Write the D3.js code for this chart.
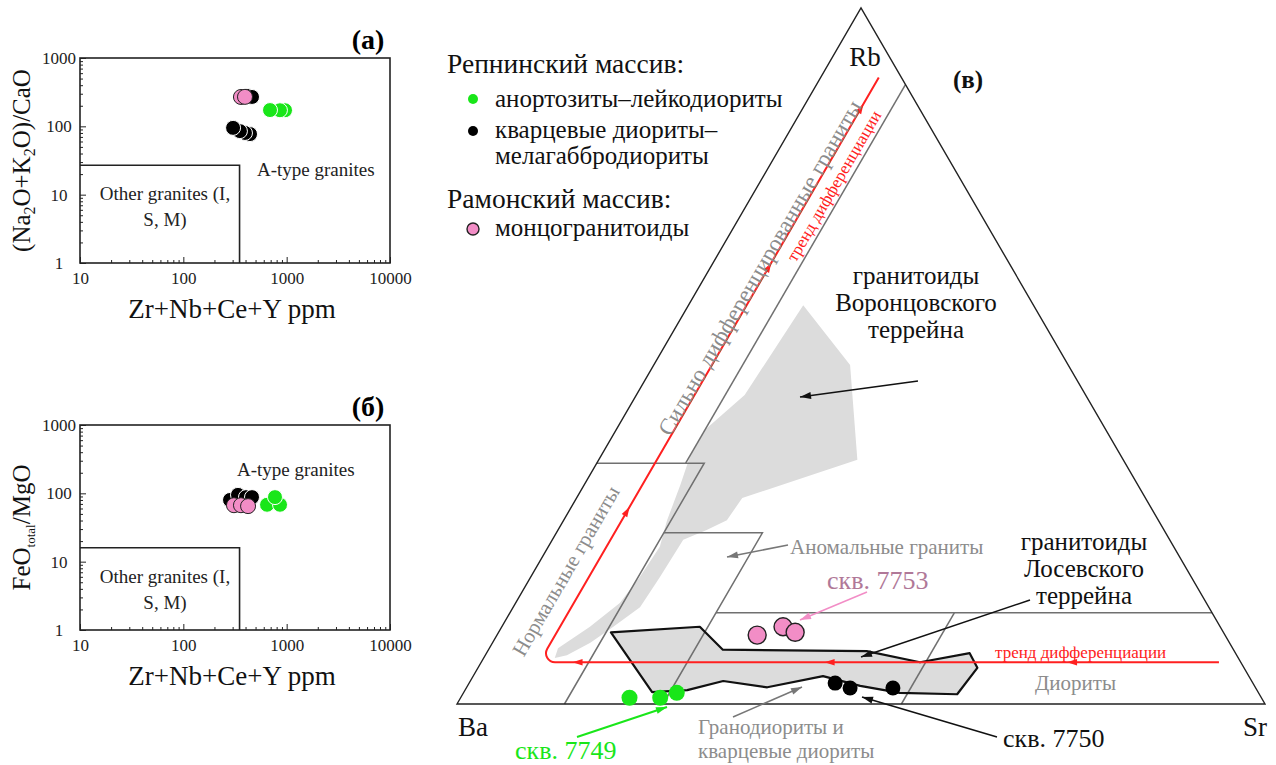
<!DOCTYPE html>
<html><head><meta charset="utf-8">
<script src="https://cdn.jsdelivr.net/npm/d3@7"></script>
<style>
body{margin:0;background:#fff;}
svg{display:block;}
svg text{font-family:'Liberation Serif';}
</style></head><body>
<svg id="chart" width="1276" height="765"></svg>
<script>
// ---------- Whalen discrimination plots (log-log) ----------
const xDomain = [10, 10000];
const yDomain = [1, 1000];
const xTickLabels = ["10", "100", "1000", "10000"];
const yTickLabels = ["1", "10", "100", "1000"];
// limits of the "Other granites" field: [Zr+Nb+Ce+Y, ratio]
const otherFieldA = [350, 27];
const otherFieldB = [350, 16];

// panel (а): [Zr+Nb+Ce+Y ppm, (Na2O+K2O)/CaO]
const aBlack = [[423, 278], [462, 269], [442, 77], [395, 80], [353, 85], [303, 95]];
const aPink = [[361, 269], [395, 270]];
const aGreen = [[964, 172], [861, 172], [690, 173]];
// panel (б): [Zr+Nb+Ce+Y ppm, FeOtotal/MgO]
const bBlack = [[283, 80], [338, 95], [404, 88], [462, 88]];
const bPink = [[309, 67], [361, 67], [423, 65]];
const bGreen = [[646, 68], [862, 68], [771, 88]];

// ---------- Rb–Ba–Sr ternary, points as [Ba, Rb, Sr] % ----------
const tGreen = [[78.2, 0.9, 20.9], [74.4, 0.9, 24.7], [72.0, 1.6, 26.4]];
const tBlack = [[51.7, 3.0, 45.3], [50.2, 2.3, 47.5], [44.9, 2.3, 52.8]];
const tPink = [[57.9, 9.9, 32.2], [54.1, 11.1, 34.8], [53.0, 10.3, 36.7]];

// field boundaries
const fieldLines = [
  [[0, 89, 11], [54.4, 34.6, 11]],                       // strongly differentiated
  [[65.4, 34.6, 0], [52.1, 34.6, 13.3], [86.7, 0, 13.3]], // normal granites
  [[62.1, 24.6, 13.3], [49.9, 24.6, 25.5], [74.5, 0, 25.5]], // anomalous granites
  [[61.4, 13.1, 25.5], [0, 13.1, 86.9]],                 // granodiorites top
  [[31.9, 13.1, 55], [45, 0, 55]]                        // diorites
];
// granitoids of the Vorontsovka terrane
const vorontsovField = [
  [28.5, 57.3, 14.2], [27.0, 48.7, 24.3], [32.9, 35.1, 32.0], [49.9, 29.6, 20.5],
  [53.4, 26.4, 20.2], [56.6, 25.0, 18.4], [60.2, 23.6, 16.2], [65.8, 18.2, 16.0],
  [70.4, 13.9, 15.7], [75.1, 11.1, 13.8], [79.1, 8.8, 12.1], [82.9, 7.0, 10.1],
  [84.6, 6.6, 8.8], [83.5, 8.0, 8.5], [78.0, 11.1, 10.9], [72.6, 14.5, 12.9],
  [68.3, 18.2, 13.5], [63.6, 22.6, 13.8], [60.8, 26.4, 12.8], [56.6, 31.5, 11.9],
  [53.2, 35.8, 11.0], [49.6, 39.4, 11.0], [42.2, 44.4, 13.4]
];
// granitoids of the Losevo terrane
const losevoField = [
  [75.8, 10.3, 13.9], [64.4, 11.1, 24.5], [63.2, 7.8, 29.0], [45.5, 7.6, 46.9],
  [39.7, 6.0, 54.3], [32.9, 7.3, 59.8], [33.0, 5.2, 61.8], [37.4, 1.4, 61.2],
  [44.4, 1.6, 54.0], [48.8, 2.6, 48.6], [52.7, 4.0, 43.3], [60.4, 2.4, 37.2],
  [65.4, 3.3, 31.3], [70.5, 2.0, 27.5], [75.0, 1.7, 23.3]
];
// differentiation trend
const trendPath = [[2.7, 6.0, 91.3], [86.8, 6.0, 7.2], [2.8, 90.0, 7.2]];
const trendArrowsLeft = [[21.5, 6.0, 72.5], [51.5, 6.0, 42.5], [82.7, 6.0, 11.3]];
const trendArrowsUp = [[64.5, 28.3, 7.2], [29.4, 63.4, 7.2], [6.6, 86.2, 7.2]];

const GREEN = "#19e619", PINK = "#f28dc6", RED = "#ff2020", GREYTXT = "#8c8c8c";
const FONT = "'Liberation Serif'";

const svg = d3.select("#chart").attr("font-family", FONT);

// ---------- log panels ----------
function logPanel(cfg) {
  const g = svg.append("g");
  const x = d3.scaleLog().domain(xDomain).range([80, 390]);
  const y = d3.scaleLog().domain(yDomain).range([cfg.bottom, cfg.top]);
  const isMajor = v => Math.abs(Math.log10(v) - Math.round(Math.log10(v))) < 1e-9;

  const xa = g.append("g").attr("transform", `translate(0,${cfg.bottom})`)
    .call(d3.axisBottom(x).tickValues(x.ticks()).tickSizeInner(-4).tickSizeOuter(0).tickPadding(9)
      .tickFormat(d => isMajor(d) ? xTickLabels[Math.round(Math.log10(d)) - 1] : ""));
  xa.attr("font-family", FONT);
  xa.select(".domain").remove();
  xa.selectAll(".tick line").attr("y2", d => isMajor(d) ? -6 : -3).attr("stroke", "#222");
  xa.selectAll(".tick text").attr("font-size", 17).attr("fill", "#222");

  const ya = g.append("g").attr("transform", "translate(80,0)")
    .call(d3.axisLeft(y).tickValues(y.ticks()).tickSizeInner(-4).tickSizeOuter(0)
      .tickFormat(d => isMajor(d) ? yTickLabels[Math.round(Math.log10(d))] : ""));
  ya.attr("font-family", FONT);
  ya.select(".domain").remove();
  ya.selectAll(".tick line").attr("x2", d => isMajor(d) ? 6 : 3).attr("stroke", "#222");
  ya.selectAll(".tick text").attr("font-size", 17)
    .attr("fill", "#222").attr("text-anchor", "middle").attr("x", -21);

  // frame
  g.append("rect").attr("x", 80).attr("y", cfg.top).attr("width", 310).attr("height", cfg.bottom - cfg.top)
    .attr("fill", "none").attr("stroke", "#222").attr("stroke-width", 1.6);
  // other granites field
  g.append("path").attr("fill", "none").attr("stroke", "#222").attr("stroke-width", 1.6)
    .attr("d", d3.line()([[x(10), y(cfg.field[1])], [x(cfg.field[0]), y(cfg.field[1])], [x(cfg.field[0]), y(1)]]));

  g.append("text").attr("x", 165).attr("y", y(cfg.field[1]) + 35).attr("text-anchor", "middle")
    .attr("font-size", 19).attr("fill", "#222").text("Other granites (I,");
  g.append("text").attr("x", 165).attr("y", y(cfg.field[1]) + 61).attr("text-anchor", "middle")
    .attr("font-size", 19).attr("fill", "#222").text("S, M)");
  g.append("text").attr("x", cfg.aLabel[0]).attr("y", cfg.aLabel[1])
    .attr("font-size", 19).attr("fill", "#222").text("A-type granites");

  g.append("text").attr("x", 368).attr("y", cfg.top - 9).attr("text-anchor", "middle")
    .attr("font-size", 28).attr("font-weight", "bold").text(cfg.tag);

  g.append("text").attr("x", 232).attr("y", cfg.bottom + 55).attr("text-anchor", "middle")
    .attr("font-size", 27).attr("fill", "#111").text("Zr+Nb+Ce+Y ppm");

  // rotated y title with subscripts
  const yt = g.append("text").attr("transform", `translate(30,${(cfg.top + cfg.bottom) / 2}) rotate(-90)`)
    .attr("text-anchor", "middle").attr("font-size", 25).attr("fill", "#111");
  let prevSub = false;
  cfg.yTitle.forEach(([s, sub]) => {
    yt.append("tspan").attr("font-size", sub ? (sub === "t" ? 13 : 16) : null)
      .attr("dy", sub ? 5 : (prevSub ? -5 : 0)).text(s);
    prevSub = !!sub;
  });

  const dots = g.append("g");
  const draw = (data, fill, stroke, r) => dots.selectAll(null).data(data).enter().append("circle")
    .attr("cx", d => x(d[0])).attr("cy", d => y(d[1])).attr("r", r)
    .attr("fill", fill).attr("stroke", stroke).attr("stroke-width", 1);
  draw(cfg.black, "#000", "#fff", 7.5);
  draw(cfg.pink, PINK, "#222", 7.5);
  draw(cfg.green, GREEN, "#fff", 7.5);
}

logPanel({top: 58, bottom: 263, field: otherFieldA, aLabel: [257, 176], tag: "(а)",
  yTitle: [["(Na", false], ["2", true], ["O+K", false], ["2", true], ["O)/CaO", false]],
  black: aBlack, pink: aPink, green: aGreen});
logPanel({top: 425, bottom: 630, field: otherFieldB, aLabel: [237, 476], tag: "(б)",
  yTitle: [["FeO", false], ["total", "t"], ["/MgO", false]],
  black: bBlack, pink: bPink, green: bGreen});

// ---------- ternary ----------
const tx = d3.scaleLinear().domain([0, 100]).range([457, 1265]);
const ty = d3.scaleLinear().domain([0, 100]).range([704, 8]);
const tern = ([ba, rb, sr]) => { const s = ba + rb + sr; return [tx((sr + rb / 2) * 100 / s), ty(rb * 100 / s)]; };
const tLine = d3.line().x(d => tern(d)[0]).y(d => tern(d)[1]);

const T = svg.append("g");
T.append("path").attr("d", tLine(vorontsovField) + "Z").attr("fill", "#dcdcdc").attr("stroke", "none");
T.append("path").attr("d", tLine(losevoField) + "Z").attr("fill", "#dcdcdc").attr("stroke", "none");

fieldLines.forEach(l => T.append("path").attr("d", tLine(l)).attr("fill", "none")
  .attr("stroke", "#707070").attr("stroke-width", 1.5));
T.append("path").attr("d", tLine([[100, 0, 0], [0, 100, 0], [0, 0, 100]]) + "Z")
  .attr("fill", "none").attr("stroke", "#222").attr("stroke-width", 1.4);
T.append("path").attr("d", tLine(losevoField) + "Z").attr("fill", "none")
  .attr("stroke", "#111").attr("stroke-width", 2.2).attr("stroke-linejoin", "round");

// trend line with a rounded corner
const tp = trendPath.map(tern);
const p = d3.path();
p.moveTo(tp[0][0], tp[0][1]);
p.arcTo(tp[1][0], tp[1][1], tp[2][0], tp[2][1], 9);
p.lineTo(tp[2][0], tp[2][1]);
T.append("path").attr("d", p.toString()).attr("fill", "none").attr("stroke", RED).attr("stroke-width", 2);
const arrowHead = (pt, angleDeg, len = 10, w = 3.2) => {
  const a = angleDeg * Math.PI / 180, c = Math.cos(a), s = Math.sin(a);
  const b = [pt[0] - c * len, pt[1] - s * len];
  return `M${pt[0]},${pt[1]}L${b[0] - s * w},${b[1] + c * w}L${b[0] + s * w},${b[1] - c * w}Z`;
};
const upAngle = Math.atan2(ty(100) - ty(0), tx(50) - tx(0)) * 180 / Math.PI;
trendArrowsLeft.forEach(d => T.append("path").attr("d", arrowHead(tern(d), 180)).attr("fill", RED));
trendArrowsUp.forEach(d => T.append("path").attr("d", arrowHead(tern(d), upAngle)).attr("fill", RED));

// annotation arrows
function arrow(from, to, color, w = 1.5) {
  const ang = Math.atan2(to[1] - from[1], to[0] - from[0]) * 180 / Math.PI;
  T.append("line").attr("x1", from[0]).attr("y1", from[1]).attr("x2", to[0]).attr("y2", to[1])
    .attr("stroke", color).attr("stroke-width", w);
  T.append("path").attr("d", arrowHead(to, ang, 11, 3.5)).attr("fill", color);
}
arrow([918, 381], [800, 397], "#111");
arrow([1030, 600], [861, 657], "#111");
arrow([867, 592], [800, 620], PINK);
arrow([577, 737], [667, 707], GREEN, 2);
arrow([997, 737], [862, 697], "#111");
arrow([788, 545], [727, 557], "#777");
arrow([733, 717], [802, 687], "#777");

// data points
const tdots = (data, fill, stroke, r) => T.selectAll(null).data(data).enter().append("circle")
  .attr("cx", d => tern(d)[0]).attr("cy", d => tern(d)[1]).attr("r", r)
  .attr("fill", fill).attr("stroke", stroke).attr("stroke-width", stroke === "none" ? 0 : 1.4);
tdots(tGreen, GREEN, "none", 8);
tdots(tBlack, "#000", "none", 7.5);
tdots(tPink, PINK, "#222", 9);

// ternary labels
const txt = (x, y, s, o = {}) => T.append("text").attr("x", x).attr("y", y).attr("font-family", FONT)
  .attr("font-size", o.size || 25).attr("fill", o.fill || "#111")
  .attr("text-anchor", o.anchor || "start").attr("font-weight", o.weight || null).text(s);
txt(865, 66, "Rb", {size: 27, anchor: "middle"});
txt(473, 736, "Ba", {size: 27, anchor: "middle"});
txt(1255, 736, "Sr", {size: 27, anchor: "middle"});
txt(968, 88, "(в)", {size: 25, anchor: "middle", weight: "bold"});

["гранитоиды", "Воронцовского", "террейна"].forEach((s, i) => txt(916, 284 + i * 27, s, {anchor: "middle"}));
["гранитоиды", "Лосевского", "террейна"].forEach((s, i) => txt(1084, 550 + i * 27, s, {anchor: "middle"}));
txt(827, 589, "скв. 7753", {fill: "#b07898", size: 26});
txt(1003, 747, "скв. 7750", {size: 26});
txt(515, 759, "скв. 7749", {fill: GREEN, size: 26});
txt(790, 554, "Аномальные граниты", {fill: GREYTXT, size: 21});
txt(1035, 690, "Диориты", {fill: GREYTXT, size: 21});
txt(698, 734, "Гранодиориты и", {fill: GREYTXT, size: 21});
txt(698, 758, "кварцевые диориты", {fill: GREYTXT, size: 21});
txt(995, 658, "тренд дифференциации", {fill: RED, size: 17});

const centerText = (x, y, s, o) => T.append("text").attr("x", 0).attr("y", 0).attr("font-family", FONT)
  .attr("transform", `translate(${x},${y}) rotate(${upAngle})`).attr("text-anchor", "middle")
  .attr("dominant-baseline", "central").attr("font-size", o.size).attr("fill", o.fill).text(s);
centerText(760, 268, "Сильно дифференцированные граниты", {size: 23, fill: GREYTXT});
centerText(834, 186, "тренд дифференциации", {size: 17, fill: RED});
centerText(566, 571, "Нормальные граниты", {size: 21, fill: GREYTXT});

// legend
const L = svg.append("g");
const lt = (x, y, s, size) => L.append("text").attr("x", x).attr("y", y).attr("font-family", FONT)
  .attr("font-size", size).attr("fill", "#111").text(s);
lt(447, 73, "Репнинский массив:", 27.5);
L.append("circle").attr("cx", 473).attr("cy", 99).attr("r", 5).attr("fill", GREEN);
lt(495, 107, "анортозиты–лейкодиориты", 25);
L.append("circle").attr("cx", 473).attr("cy", 131).attr("r", 5).attr("fill", "#000");
lt(495, 138, "кварцевые диориты–", 25);
lt(495, 164, "мелагаббродиориты", 25);
lt(447, 208, "Рамонский массив:", 27.5);
L.append("circle").attr("cx", 473).attr("cy", 229).attr("r", 6).attr("fill", PINK).attr("stroke", "#222").attr("stroke-width", 1.4);
lt(495, 236, "монцогранитоиды", 25);
</script>
</body></html>
